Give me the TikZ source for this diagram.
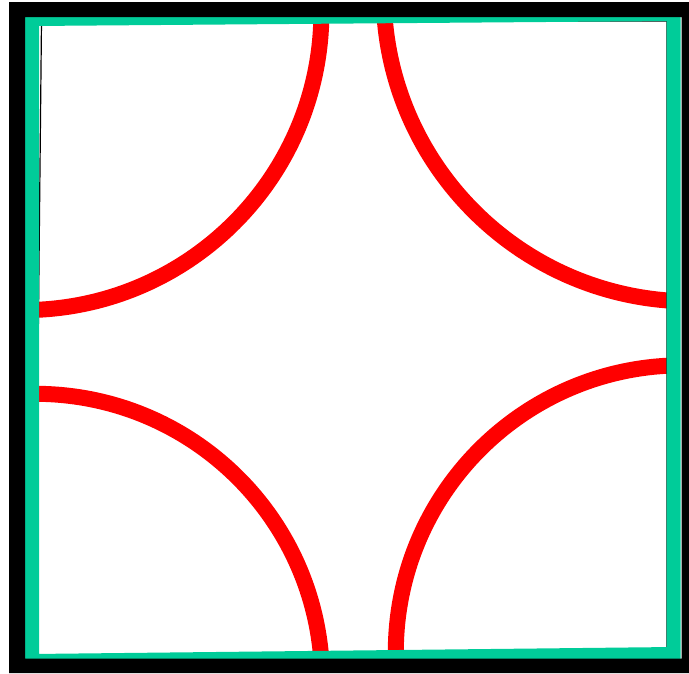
\documentclass[tikz,border=0pt]{standalone}
\definecolor{frameGreen}{RGB}{0,204,153}
\definecolor{arcRed}{RGB}{255,0,0}
\tikzset{
  arcline/.style={draw=arcRed, line width=16pt},
  greenframe/.style={draw=frameGreen, line width=14pt, line join=miter},
  hairline/.style={draw=black, line width=1.2pt},
}
\begin{document}
\begin{tikzpicture}[x=1pt,y=-1pt]
\useasboundingbox (0,0) rectangle (689,673);
\coordinate (TL) at (32,19);
\coordinate (TR) at (673.5,14);
\coordinate (BR) at (673.5,654);
\coordinate (BL) at (32,661);
\coordinate (cTL) at (23.4,12.1);
\coordinate (cTR) at (691.7,-6.6);
\coordinate (cBR) at (682.8,652.3);
\coordinate (cBL) at (35.1,680.8);
\begin{scope}
  \clip (TL) -- (TR) -- (BR) -- (BL) -- cycle;
  \path[arcline] (cTL) circle[radius=298pt];
  \path[arcline] (cTR) circle[radius=308pt];
  \path[arcline] (cBR) circle[radius=287pt];
  \path[arcline] (cBL) circle[radius=287pt];
\end{scope}
\coordinate (hTL) at (41.5,21);
\coordinate (hTR) at (667,21);
\coordinate (hBR) at (667,650);
\coordinate (hBL) at (35,656);
\path[hairline] (hTL) -- (hTR) -- (hBR) -- (hBL) -- cycle;
\path[greenframe] (TL) -- (TR) -- (BR) -- (BL) -- cycle;
\fill[black, even odd rule] (9,2) rectangle (689,673) (25,17) rectangle (681.5,658.5);
\end{tikzpicture}
\end{document}
